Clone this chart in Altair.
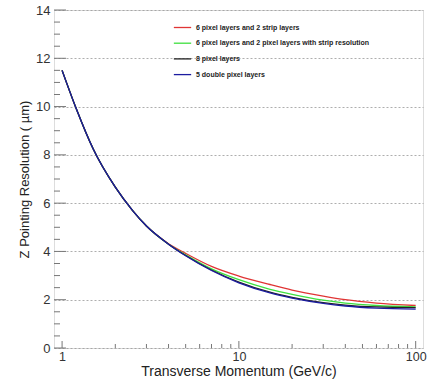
import altair as alt
import pandas as pd

# Transverse momentum sample points (GeV/c)
pt = [1, 1.2, 1.5, 2, 2.5, 3, 4, 5, 7, 10, 15, 20, 30, 40, 60, 100]

# Z pointing resolution (um) for each detector layout
res_strip = [11.5, 9.93, 8.24, 6.66, 5.7, 5.05, 4.32, 3.92, 3.38, 2.98, 2.63, 2.4, 2.15, 2.0, 1.86, 1.76]
res_pix_strip = [11.5, 9.93, 8.24, 6.66, 5.7, 5.05, 4.3, 3.86, 3.28, 2.83, 2.43, 2.22, 1.98, 1.86, 1.76, 1.70]
res_8pix = [11.5, 9.93, 8.24, 6.66, 5.7, 5.05, 4.3, 3.83, 3.23, 2.73, 2.31, 2.1, 1.88, 1.78, 1.70, 1.67]
res_double = [11.5, 9.93, 8.24, 6.66, 5.7, 5.05, 4.3, 3.82, 3.21, 2.70, 2.28, 2.07, 1.85, 1.74, 1.65, 1.61]

series = [
    "6 pixel layers and 2 strip layers",
    "6 pixel layers and 2 pixel layers with strip resolution",
    "8 pixel layers",
    "5 double pixel layers",
]
colors = ["#e03535", "#3ee03e", "#222222", "#1c1ca0"]

# Axis tick positions
x_major = [1, 10, 100]
x_minor = [2, 3, 4, 5, 6, 7, 8, 9, 20, 30, 40, 50, 60, 70, 80, 90]
y_major = [0, 2, 4, 6, 8, 10, 12, 14]
y_minor = [0.5, 1, 1.5, 2.5, 3, 3.5, 4.5, 5, 5.5, 6.5, 7, 7.5, 8.5, 9, 9.5,
           10.5, 11, 11.5, 12.5, 13, 13.5]

W, H = 369, 338

rows = []
for name, vals in zip(series, [res_strip, res_pix_strip, res_8pix, res_double]):
    for p, v in zip(pt, vals):
        rows.append({"pt": p, "res": v, "layout": name})
df = pd.DataFrame(rows)

xscale = alt.Scale(type="log", domain=[0.9, 110], nice=False)
yscale = alt.Scale(domain=[0, 14], nice=False, zero=False)

color = alt.Color(
    "layout:N",
    scale=alt.Scale(domain=series, range=colors),
    legend=alt.Legend(
        title=None,
        orient="none",
        legendX=119,
        legendY=8,
        symbolType="stroke",
        symbolSize=300,
        symbolStrokeWidth=1.3,
        labelFont="Liberation Sans",
        labelFontSize=7,
        labelFontWeight="bold",
        labelColor="#222",
        labelOffset=4,
        rowPadding=2.7,
        labelLimit=300,
    ),
)

x_enc = alt.X(
    "pt:Q",
    scale=xscale,
    axis=alt.Axis(
        values=x_major,
        format="~g",
        ticks=False,
        domain=False,
        grid=False,
        labelFontSize=12.5,
        labelColor="#333",
        labelPadding=2,
        labelFlush=False,
        title="Transverse Momentum (GeV/c)",
        titleFontSize=14,
        titleFontWeight="normal",
        titleColor="#222",
        titlePadding=2,
    ),
)
y_enc = alt.Y(
    "res:Q",
    scale=yscale,
    axis=alt.Axis(
        values=y_major,
        ticks=False,
        domain=False,
        grid=True,
        gridDash=[2, 2],
        gridColor="#999",
        gridWidth=0.8,
        labelFontSize=13,
        labelColor="#333",
        labelPadding=4,
        title="Z Pointing Resolution ( µm)",
        titleFontSize=13,
        titleFontWeight="normal",
        titleColor="#222",
        titlePadding=4,
    ),
)

base = alt.Chart(df)
line_layers = [
    base.transform_filter(alt.datum.layout == name)
    .mark_line(strokeWidth=1.3, interpolate="monotone")
    .encode(x=x_enc, y=y_enc, color=color)
    for name in series
]

tick_color = "#777"
xmaj = alt.Chart(pd.DataFrame({"t": x_major})).mark_rule(color=tick_color).encode(
    x=alt.X("t:Q", scale=xscale), y=alt.value(H), y2=alt.value(H - 7)
)
xmin = alt.Chart(pd.DataFrame({"t": x_minor})).mark_rule(color=tick_color).encode(
    x=alt.X("t:Q", scale=xscale), y=alt.value(H), y2=alt.value(H - 4)
)
ymaj = alt.Chart(pd.DataFrame({"t": y_major})).mark_rule(color=tick_color).encode(
    y=alt.Y("t:Q", scale=yscale), x=alt.value(0), x2=alt.value(12)
)
ymin = alt.Chart(pd.DataFrame({"t": y_minor})).mark_rule(color=tick_color).encode(
    y=alt.Y("t:Q", scale=yscale), x=alt.value(0), x2=alt.value(6)
)

chart = (
    alt.layer(xmaj, xmin, ymaj, ymin, *line_layers)
    .properties(
        width=W,
        height=H,
        autosize=alt.AutoSizeParams(type="none"),
        padding={"left": 54, "top": 10, "right": 7, "bottom": 33},
    )
    .configure_view(stroke="#666", strokeWidth=1)
    .configure(font="Liberation Sans", background="white")
)

chart.save("out.html", embed_options={"renderer": "svg", "actions": False})
